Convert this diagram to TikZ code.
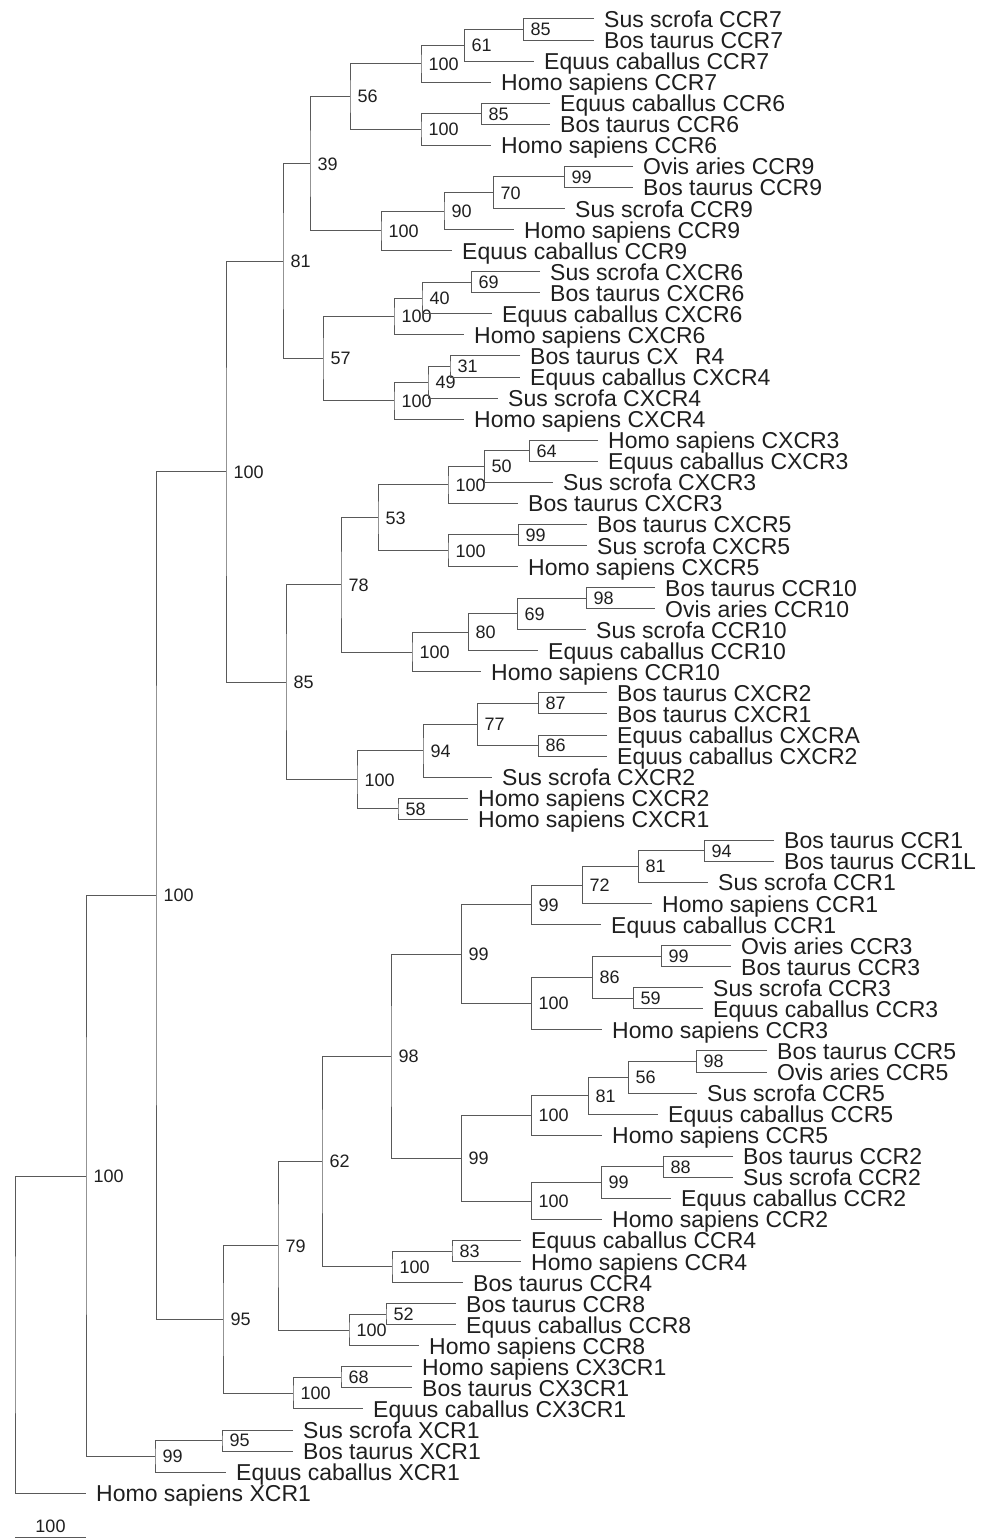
\documentclass[tikz,border=0pt]{standalone}
\usepackage{fontspec}
\setmainfont{Liberation Sans}

\begin{document}
\begin{tikzpicture}[
  x=1pt, y=-21.06pt,
  every node/.style = {inner sep=0pt, text=black!88},
  leaf/.style   = {anchor=base west, xshift=10pt, yshift=-8.5pt,
                   font=\fontsize{23}{27}\selectfont},
  boot/.style   = {anchor=base west, xshift=7.5pt, yshift=-6.3pt,
                   font=\fontsize{18}{21}\selectfont},
  branch/.style = {draw=black!65, line width=1pt}
]
\useasboundingbox (0,-0.902) rectangle (984,72.127);

%% ── TIPS (x = end of branch, y = row) ───────────────────────────
\coordinate (ssCCR7)   at (594, 0);  \node[leaf] (ssCCR7-t)   at (ssCCR7)   {Sus scrofa CCR7};
\coordinate (btCCR7)   at (594, 1);  \node[leaf] (btCCR7-t)   at (btCCR7)   {Bos taurus CCR7};
\coordinate (ecCCR7)   at (534, 2);  \node[leaf] (ecCCR7-t)   at (ecCCR7)   {Equus caballus CCR7};
\coordinate (hsCCR7)   at (491, 3);  \node[leaf] (hsCCR7-t)   at (hsCCR7)   {Homo sapiens CCR7};
\coordinate (ecCCR6)   at (550, 4);  \node[leaf] (ecCCR6-t)   at (ecCCR6)   {Equus caballus CCR6};
\coordinate (btCCR6)   at (550, 5);  \node[leaf] (btCCR6-t)   at (btCCR6)   {Bos taurus CCR6};
\coordinate (hsCCR6)   at (491, 6);  \node[leaf] (hsCCR6-t)   at (hsCCR6)   {Homo sapiens CCR6};
\coordinate (oaCCR9)   at (633, 7);  \node[leaf] (oaCCR9-t)   at (oaCCR9)   {Ovis aries CCR9};
\coordinate (btCCR9)   at (633, 8);  \node[leaf] (btCCR9-t)   at (btCCR9)   {Bos taurus CCR9};
\coordinate (ssCCR9)   at (565, 9);  \node[leaf] (ssCCR9-t)   at (ssCCR9)   {Sus scrofa CCR9};
\coordinate (hsCCR9)   at (514,10);  \node[leaf] (hsCCR9-t)   at (hsCCR9)   {Homo sapiens CCR9};
\coordinate (ecCCR9)   at (452,11);  \node[leaf] (ecCCR9-t)   at (ecCCR9)   {Equus caballus CCR9};
\coordinate (ssCXCR6)  at (540,12);  \node[leaf] (ssCXCR6-t)  at (ssCXCR6)  {Sus scrofa CXCR6};
\coordinate (btCXCR6)  at (540,13);  \node[leaf] (btCXCR6-t)  at (btCXCR6)  {Bos taurus CXCR6};
\coordinate (ecCXCR6)  at (492,14);  \node[leaf] (ecCXCR6-t)  at (ecCXCR6)  {Equus caballus CXCR6};
\coordinate (hsCXCR6)  at (464,15);  \node[leaf] (hsCXCR6-t)  at (hsCXCR6)  {Homo sapiens CXCR6};
\coordinate (btCXCR4)  at (520,16);  \node[leaf] (btCXCR4-t)  at (btCXCR4)  {Bos taurus CX\hphantom{C}R4};
\coordinate (ecCXCR4)  at (520,17);  \node[leaf] (ecCXCR4-t)  at (ecCXCR4)  {Equus caballus CXCR4};
\coordinate (ssCXCR4)  at (498,18);  \node[leaf] (ssCXCR4-t)  at (ssCXCR4)  {Sus scrofa CXCR4};
\coordinate (hsCXCR4)  at (464,19);  \node[leaf] (hsCXCR4-t)  at (hsCXCR4)  {Homo sapiens CXCR4};
\coordinate (hsCXCR3)  at (598,20);  \node[leaf] (hsCXCR3-t)  at (hsCXCR3)  {Homo sapiens CXCR3};
\coordinate (ecCXCR3)  at (598,21);  \node[leaf] (ecCXCR3-t)  at (ecCXCR3)  {Equus caballus CXCR3};
\coordinate (ssCXCR3)  at (553,22);  \node[leaf] (ssCXCR3-t)  at (ssCXCR3)  {Sus scrofa CXCR3};
\coordinate (btCXCR3)  at (518,23);  \node[leaf] (btCXCR3-t)  at (btCXCR3)  {Bos taurus CXCR3};
\coordinate (btCXCR5)  at (587,24);  \node[leaf] (btCXCR5-t)  at (btCXCR5)  {Bos taurus CXCR5};
\coordinate (ssCXCR5)  at (587,25);  \node[leaf] (ssCXCR5-t)  at (ssCXCR5)  {Sus scrofa CXCR5};
\coordinate (hsCXCR5)  at (518,26);  \node[leaf] (hsCXCR5-t)  at (hsCXCR5)  {Homo sapiens CXCR5};
\coordinate (btCCR10)  at (655,27);  \node[leaf] (btCCR10-t)  at (btCCR10)  {Bos taurus CCR10};
\coordinate (oaCCR10)  at (655,28);  \node[leaf] (oaCCR10-t)  at (oaCCR10)  {Ovis aries CCR10};
\coordinate (ssCCR10)  at (586,29);  \node[leaf] (ssCCR10-t)  at (ssCCR10)  {Sus scrofa CCR10};
\coordinate (ecCCR10)  at (538,30);  \node[leaf] (ecCCR10-t)  at (ecCCR10)  {Equus caballus CCR10};
\coordinate (hsCCR10)  at (481,31);  \node[leaf] (hsCCR10-t)  at (hsCCR10)  {Homo sapiens CCR10};
\coordinate (btCXCR2)  at (607,32);  \node[leaf] (btCXCR2-t)  at (btCXCR2)  {Bos taurus CXCR2};
\coordinate (btCXCR1)  at (607,33);  \node[leaf] (btCXCR1-t)  at (btCXCR1)  {Bos taurus CXCR1};
\coordinate (ecCXCRA)  at (607,34);  \node[leaf] (ecCXCRA-t)  at (ecCXCRA)  {Equus caballus CXCRA};
\coordinate (ecCXCR2)  at (607,35);  \node[leaf] (ecCXCR2-t)  at (ecCXCR2)  {Equus caballus CXCR2};
\coordinate (ssCXCR2)  at (492,36);  \node[leaf] (ssCXCR2-t)  at (ssCXCR2)  {Sus scrofa CXCR2};
\coordinate (hsCXCR2)  at (468,37);  \node[leaf] (hsCXCR2-t)  at (hsCXCR2)  {Homo sapiens CXCR2};
\coordinate (hsCXCR1)  at (468,38);  \node[leaf] (hsCXCR1-t)  at (hsCXCR1)  {Homo sapiens CXCR1};
\coordinate (btCCR1)   at (774,39);  \node[leaf] (btCCR1-t)   at (btCCR1)   {Bos taurus CCR1};
\coordinate (btCCR1L)  at (774,40);  \node[leaf] (btCCR1L-t)  at (btCCR1L)  {Bos taurus CCR1L};
\coordinate (ssCCR1)   at (708,41);  \node[leaf] (ssCCR1-t)   at (ssCCR1)   {Sus scrofa CCR1};
\coordinate (hsCCR1)   at (652,42);  \node[leaf] (hsCCR1-t)   at (hsCCR1)   {Homo sapiens CCR1};
\coordinate (ecCCR1)   at (601,43);  \node[leaf] (ecCCR1-t)   at (ecCCR1)   {Equus caballus CCR1};
\coordinate (oaCCR3)   at (731,44);  \node[leaf] (oaCCR3-t)   at (oaCCR3)   {Ovis aries CCR3};
\coordinate (btCCR3)   at (731,45);  \node[leaf] (btCCR3-t)   at (btCCR3)   {Bos taurus CCR3};
\coordinate (ssCCR3)   at (703,46);  \node[leaf] (ssCCR3-t)   at (ssCCR3)   {Sus scrofa CCR3};
\coordinate (ecCCR3)   at (703,47);  \node[leaf] (ecCCR3-t)   at (ecCCR3)   {Equus caballus CCR3};
\coordinate (hsCCR3)   at (602,48);  \node[leaf] (hsCCR3-t)   at (hsCCR3)   {Homo sapiens CCR3};
\coordinate (btCCR5)   at (767,49);  \node[leaf] (btCCR5-t)   at (btCCR5)   {Bos taurus CCR5};
\coordinate (oaCCR5)   at (767,50);  \node[leaf] (oaCCR5-t)   at (oaCCR5)   {Ovis aries CCR5};
\coordinate (ssCCR5)   at (697,51);  \node[leaf] (ssCCR5-t)   at (ssCCR5)   {Sus scrofa CCR5};
\coordinate (ecCCR5)   at (658,52);  \node[leaf] (ecCCR5-t)   at (ecCCR5)   {Equus caballus CCR5};
\coordinate (hsCCR5)   at (602,53);  \node[leaf] (hsCCR5-t)   at (hsCCR5)   {Homo sapiens CCR5};
\coordinate (btCCR2)   at (733,54);  \node[leaf] (btCCR2-t)   at (btCCR2)   {Bos taurus CCR2};
\coordinate (ssCCR2)   at (733,55);  \node[leaf] (ssCCR2-t)   at (ssCCR2)   {Sus scrofa CCR2};
\coordinate (ecCCR2)   at (671,56);  \node[leaf] (ecCCR2-t)   at (ecCCR2)   {Equus caballus CCR2};
\coordinate (hsCCR2)   at (602,57);  \node[leaf] (hsCCR2-t)   at (hsCCR2)   {Homo sapiens CCR2};
\coordinate (ecCCR4)   at (521,58);  \node[leaf] (ecCCR4-t)   at (ecCCR4)   {Equus caballus CCR4};
\coordinate (hsCCR4)   at (521,59);  \node[leaf] (hsCCR4-t)   at (hsCCR4)   {Homo sapiens CCR4};
\coordinate (btCCR4)   at (463,60);  \node[leaf] (btCCR4-t)   at (btCCR4)   {Bos taurus CCR4};
\coordinate (btCCR8)   at (456,61);  \node[leaf] (btCCR8-t)   at (btCCR8)   {Bos taurus CCR8};
\coordinate (ecCCR8)   at (456,62);  \node[leaf] (ecCCR8-t)   at (ecCCR8)   {Equus caballus CCR8};
\coordinate (hsCCR8)   at (419,63);  \node[leaf] (hsCCR8-t)   at (hsCCR8)   {Homo sapiens CCR8};
\coordinate (hsCX3CR1) at (412,64);  \node[leaf] (hsCX3CR1-t) at (hsCX3CR1) {Homo sapiens CX3CR1};
\coordinate (btCX3CR1) at (412,65);  \node[leaf] (btCX3CR1-t) at (btCX3CR1) {Bos taurus CX3CR1};
\coordinate (ecCX3CR1) at (363,66);  \node[leaf] (ecCX3CR1-t) at (ecCX3CR1) {Equus caballus CX3CR1};
\coordinate (ssXCR1)   at (293,67);  \node[leaf] (ssXCR1-t)   at (ssXCR1)   {Sus scrofa XCR1};
\coordinate (btXCR1)   at (293,68);  \node[leaf] (btXCR1-t)   at (btXCR1)   {Bos taurus XCR1};
\coordinate (ecXCR1)   at (226,69);  \node[leaf] (ecXCR1-t)   at (ecXCR1)   {Equus caballus XCR1};
\coordinate (hsXCR1)   at ( 86,70);  \node[leaf] (hsXCR1-t)   at (hsXCR1)   {Homo sapiens XCR1};

%% ── INNER NODES, UPPER CLADE (bootstrap beside each) ────────────
\coordinate (ccr7SB)    at (523, 0.5);     \node[boot] (ccr7SB-b)    at (ccr7SB)    {85};
\coordinate (ccr7SBE)   at (464, 1.25);    \node[boot] (ccr7SBE-b)   at (ccr7SBE)   {61};
\coordinate (ccr7)      at (421, 2.125);   \node[boot] (ccr7-b)      at (ccr7)      {100};
\coordinate (ccr6EB)    at (481, 4.5);     \node[boot] (ccr6EB-b)    at (ccr6EB)    {85};
\coordinate (ccr6)      at (421, 5.25);    \node[boot] (ccr6-b)      at (ccr6)      {100};
\coordinate (ccr67)     at (350, 3.6875);  \node[boot] (ccr67-b)     at (ccr67)     {56};
\coordinate (ccr9OB)    at (564, 7.5);     \node[boot] (ccr9OB-b)    at (ccr9OB)    {99};
\coordinate (ccr9OBS)   at (493, 8.25);    \node[boot] (ccr9OBS-b)   at (ccr9OBS)   {70};
\coordinate (ccr9OBSH)  at (444, 9.125);   \node[boot] (ccr9OBSH-b)  at (ccr9OBSH)  {90};
\coordinate (ccr9)      at (381,10.0625);  \node[boot] (ccr9-b)      at (ccr9)      {100};
\coordinate (ccr679)    at (310, 6.875);   \node[boot] (ccr679-b)    at (ccr679)    {39};
\coordinate (cxcr6SB)   at (471,12.5);     \node[boot] (cxcr6SB-b)   at (cxcr6SB)   {69};
\coordinate (cxcr6SBE)  at (422,13.25);    \node[boot] (cxcr6SBE-b)  at (cxcr6SBE)  {40};
\coordinate (cxcr6)     at (394,14.125);   \node[boot] (cxcr6-b)     at (cxcr6)     {100};
\coordinate (cxcr4BE)   at (450,16.5);     \node[boot] (cxcr4BE-b)   at (cxcr4BE)   {31};
\coordinate (cxcr4BES)  at (428,17.25);    \node[boot] (cxcr4BES-b)  at (cxcr4BES)  {49};
\coordinate (cxcr4)     at (394,18.125);   \node[boot] (cxcr4-b)     at (cxcr4)     {100};
\coordinate (cxcr46)    at (323,16.125);   \node[boot] (cxcr46-b)    at (cxcr46)    {57};
\coordinate (grpA)      at (283,11.5);     \node[boot] (grpA-b)      at (grpA)      {81};
\coordinate (cxcr3HE)   at (529,20.5);     \node[boot] (cxcr3HE-b)   at (cxcr3HE)   {64};
\coordinate (cxcr3HES)  at (484,21.25);    \node[boot] (cxcr3HES-b)  at (cxcr3HES)  {50};
\coordinate (cxcr3)     at (448,22.125);   \node[boot] (cxcr3-b)     at (cxcr3)     {100};
\coordinate (cxcr5BS)   at (518,24.5);     \node[boot] (cxcr5BS-b)   at (cxcr5BS)   {99};
\coordinate (cxcr5)     at (448,25.25);    \node[boot] (cxcr5-b)     at (cxcr5)     {100};
\coordinate (cxcr35)    at (378,23.6875);  \node[boot] (cxcr35-b)    at (cxcr35)    {53};
\coordinate (ccr10BO)   at (586,27.5);     \node[boot] (ccr10BO-b)   at (ccr10BO)   {98};
\coordinate (ccr10BOS)  at (517,28.25);    \node[boot] (ccr10BOS-b)  at (ccr10BOS)  {69};
\coordinate (ccr10BOSE) at (468,29.125);   \node[boot] (ccr10BOSE-b) at (ccr10BOSE) {80};
\coordinate (ccr10)     at (412,30.0625);  \node[boot] (ccr10-b)     at (ccr10)     {100};
\coordinate (grpB)      at (341,26.875);   \node[boot] (grpB-b)      at (grpB)      {78};
\coordinate (cxcr1B)    at (538,32.5);     \node[boot] (cxcr1B-b)    at (cxcr1B)    {87};
\coordinate (cxcr2E)    at (538,34.5);     \node[boot] (cxcr2E-b)    at (cxcr2E)    {86};
\coordinate (cxcr12BE)  at (477,33.5);     \node[boot] (cxcr12BE-b)  at (cxcr12BE)  {77};
\coordinate (cxcr12BES) at (423,34.75);    \node[boot] (cxcr12BES-b) at (cxcr12BES) {94};
\coordinate (cxcr12H)   at (398,37.5);     \node[boot] (cxcr12H-b)   at (cxcr12H)   {58};
\coordinate (cxcr12)    at (357,36.125);   \node[boot] (cxcr12-b)    at (cxcr12)    {100};
\coordinate (grpC)      at (286,31.5);     \node[boot] (grpC-b)      at (grpC)      {85};
\coordinate (grpAC)     at (226,21.5);     \node[boot] (grpAC-b)     at (grpAC)     {100};

%% ── INNER NODES, LOWER CLADE ────────────────────────────────────
\coordinate (ccr1B)     at (704,39.5);     \node[boot] (ccr1B-b)     at (ccr1B)     {94};
\coordinate (ccr1BS)    at (638,40.25);    \node[boot] (ccr1BS-b)    at (ccr1BS)    {81};
\coordinate (ccr1BSH)   at (582,41.125);   \node[boot] (ccr1BSH-b)   at (ccr1BSH)   {72};
\coordinate (ccr1)      at (531,42.0625);  \node[boot] (ccr1-b)      at (ccr1)      {99};
\coordinate (ccr3OB)    at (661,44.5);     \node[boot] (ccr3OB-b)    at (ccr3OB)    {99};
\coordinate (ccr3SE)    at (633,46.5);     \node[boot] (ccr3SE-b)    at (ccr3SE)    {59};
\coordinate (ccr3OBSE)  at (592,45.5);     \node[boot] (ccr3OBSE-b)  at (ccr3OBSE)  {86};
\coordinate (ccr3)      at (531,46.75);    \node[boot] (ccr3-b)      at (ccr3)      {100};
\coordinate (ccr13)     at (461,44.40625); \node[boot] (ccr13-b)     at (ccr13)     {99};
\coordinate (ccr5BO)    at (696,49.5);     \node[boot] (ccr5BO-b)    at (ccr5BO)    {98};
\coordinate (ccr5BOS)   at (628,50.25);    \node[boot] (ccr5BOS-b)   at (ccr5BOS)   {56};
\coordinate (ccr5BOSE)  at (588,51.125);   \node[boot] (ccr5BOSE-b)  at (ccr5BOSE)  {81};
\coordinate (ccr5)      at (531,52.0625);  \node[boot] (ccr5-b)      at (ccr5)      {100};
\coordinate (ccr2BS)    at (663,54.5);     \node[boot] (ccr2BS-b)    at (ccr2BS)    {88};
\coordinate (ccr2BSE)   at (601,55.25);    \node[boot] (ccr2BSE-b)   at (ccr2BSE)   {99};
\coordinate (ccr2)      at (531,56.125);   \node[boot] (ccr2-b)      at (ccr2)      {100};
\coordinate (ccr25)     at (461,54.09375); \node[boot] (ccr25-b)     at (ccr25)     {99};
\coordinate (ccr1235)   at (391,49.25);    \node[boot] (ccr1235-b)   at (ccr1235)   {98};
\coordinate (ccr4EH)    at (452,58.5);     \node[boot] (ccr4EH-b)    at (ccr4EH)    {83};
\coordinate (ccr4)      at (392,59.25);    \node[boot] (ccr4-b)      at (ccr4)      {100};
\coordinate (ccr12345)  at (322,54.25);    \node[boot] (ccr12345-b)  at (ccr12345)  {62};
\coordinate (ccr8BE)    at (386,61.5);     \node[boot] (ccr8BE-b)    at (ccr8BE)    {52};
\coordinate (ccr8)      at (349,62.25);    \node[boot] (ccr8-b)      at (ccr8)      {100};
\coordinate (ccrX)      at (278,58.25);    \node[boot] (ccrX-b)      at (ccrX)      {79};
\coordinate (cx3cr1HB)  at (341,64.5);     \node[boot] (cx3cr1HB-b)  at (cx3cr1HB)  {68};
\coordinate (cx3cr1)    at (293,65.25);    \node[boot] (cx3cr1-b)    at (cx3cr1)    {100};
\coordinate (grpD)      at (223,61.75);    \node[boot] (grpD-b)      at (grpD)      {95};
\coordinate (grpE)      at (156,41.625);   \node[boot] (grpE-b)      at (grpE)      {100};
\coordinate (xcr1SB)    at (222,67.5);     \node[boot] (xcr1SB-b)    at (xcr1SB)    {95};
\coordinate (xcr1)      at (155,68.25);    \node[boot] (xcr1-b)      at (xcr1)      {99};
\coordinate (ingroup)   at ( 86,54.9375);  \node[boot] (ingroup-b)   at (ingroup)   {100};
\coordinate (root)      at ( 15,62.46875);

%% ── BRANCHES ────────────────────────────────────────────────────
\draw[branch] (ssCCR7)    -| (ccr7SB)    |- (btCCR7);
\draw[branch] (ccr7SB)    -| (ccr7SBE)   |- (ecCCR7);
\draw[branch] (ccr7SBE)   -| (ccr7)      |- (hsCCR7);
\draw[branch] (ecCCR6)    -| (ccr6EB)    |- (btCCR6);
\draw[branch] (ccr6EB)    -| (ccr6)      |- (hsCCR6);
\draw[branch] (ccr7)      -| (ccr67)     |- (ccr6);
\draw[branch] (oaCCR9)    -| (ccr9OB)    |- (btCCR9);
\draw[branch] (ccr9OB)    -| (ccr9OBS)   |- (ssCCR9);
\draw[branch] (ccr9OBS)   -| (ccr9OBSH)  |- (hsCCR9);
\draw[branch] (ccr9OBSH)  -| (ccr9)      |- (ecCCR9);
\draw[branch] (ccr67)     -| (ccr679)    |- (ccr9);
\draw[branch] (ssCXCR6)   -| (cxcr6SB)   |- (btCXCR6);
\draw[branch] (cxcr6SB)   -| (cxcr6SBE)  |- (ecCXCR6);
\draw[branch] (cxcr6SBE)  -| (cxcr6)     |- (hsCXCR6);
\draw[branch] (btCXCR4)   -| (cxcr4BE)   |- (ecCXCR4);
\draw[branch] (cxcr4BE)   -| (cxcr4BES)  |- (ssCXCR4);
\draw[branch] (cxcr4BES)  -| (cxcr4)     |- (hsCXCR4);
\draw[branch] (cxcr6)     -| (cxcr46)    |- (cxcr4);
\draw[branch] (ccr679)    -| (grpA)      |- (cxcr46);
\draw[branch] (hsCXCR3)   -| (cxcr3HE)   |- (ecCXCR3);
\draw[branch] (cxcr3HE)   -| (cxcr3HES)  |- (ssCXCR3);
\draw[branch] (cxcr3HES)  -| (cxcr3)     |- (btCXCR3);
\draw[branch] (btCXCR5)   -| (cxcr5BS)   |- (ssCXCR5);
\draw[branch] (cxcr5BS)   -| (cxcr5)     |- (hsCXCR5);
\draw[branch] (cxcr3)     -| (cxcr35)    |- (cxcr5);
\draw[branch] (btCCR10)   -| (ccr10BO)   |- (oaCCR10);
\draw[branch] (ccr10BO)   -| (ccr10BOS)  |- (ssCCR10);
\draw[branch] (ccr10BOS)  -| (ccr10BOSE) |- (ecCCR10);
\draw[branch] (ccr10BOSE) -| (ccr10)     |- (hsCCR10);
\draw[branch] (cxcr35)    -| (grpB)      |- (ccr10);
\draw[branch] (btCXCR2)   -| (cxcr1B)    |- (btCXCR1);
\draw[branch] (ecCXCRA)   -| (cxcr2E)    |- (ecCXCR2);
\draw[branch] (cxcr1B)    -| (cxcr12BE)  |- (cxcr2E);
\draw[branch] (cxcr12BE)  -| (cxcr12BES) |- (ssCXCR2);
\draw[branch] (hsCXCR2)   -| (cxcr12H)   |- (hsCXCR1);
\draw[branch] (cxcr12BES) -| (cxcr12)    |- (cxcr12H);
\draw[branch] (grpB)      -| (grpC)      |- (cxcr12);
\draw[branch] (grpA)      -| (grpAC)     |- (grpC);

\draw[branch] (btCCR1)    -| (ccr1B)     |- (btCCR1L);
\draw[branch] (ccr1B)     -| (ccr1BS)    |- (ssCCR1);
\draw[branch] (ccr1BS)    -| (ccr1BSH)   |- (hsCCR1);
\draw[branch] (ccr1BSH)   -| (ccr1)      |- (ecCCR1);
\draw[branch] (oaCCR3)    -| (ccr3OB)    |- (btCCR3);
\draw[branch] (ssCCR3)    -| (ccr3SE)    |- (ecCCR3);
\draw[branch] (ccr3OB)    -| (ccr3OBSE)  |- (ccr3SE);
\draw[branch] (ccr3OBSE)  -| (ccr3)      |- (hsCCR3);
\draw[branch] (ccr1)      -| (ccr13)     |- (ccr3);
\draw[branch] (btCCR5)    -| (ccr5BO)    |- (oaCCR5);
\draw[branch] (ccr5BO)    -| (ccr5BOS)   |- (ssCCR5);
\draw[branch] (ccr5BOS)   -| (ccr5BOSE)  |- (ecCCR5);
\draw[branch] (ccr5BOSE)  -| (ccr5)      |- (hsCCR5);
\draw[branch] (btCCR2)    -| (ccr2BS)    |- (ssCCR2);
\draw[branch] (ccr2BS)    -| (ccr2BSE)   |- (ecCCR2);
\draw[branch] (ccr2BSE)   -| (ccr2)      |- (hsCCR2);
\draw[branch] (ccr5)      -| (ccr25)     |- (ccr2);
\draw[branch] (ccr13)     -| (ccr1235)   |- (ccr25);
\draw[branch] (ecCCR4)    -| (ccr4EH)    |- (hsCCR4);
\draw[branch] (ccr4EH)    -| (ccr4)      |- (btCCR4);
\draw[branch] (ccr1235)   -| (ccr12345)  |- (ccr4);
\draw[branch] (btCCR8)    -| (ccr8BE)    |- (ecCCR8);
\draw[branch] (ccr8BE)    -| (ccr8)      |- (hsCCR8);
\draw[branch] (ccr12345)  -| (ccrX)      |- (ccr8);
\draw[branch] (hsCX3CR1)  -| (cx3cr1HB)  |- (btCX3CR1);
\draw[branch] (cx3cr1HB)  -| (cx3cr1)    |- (ecCX3CR1);
\draw[branch] (ccrX)      -| (grpD)      |- (cx3cr1);
\draw[branch] (grpAC)     -| (grpE)      |- (grpD);
\draw[branch] (ssXCR1)    -| (xcr1SB)    |- (btXCR1);
\draw[branch] (xcr1SB)    -| (xcr1)      |- (ecXCR1);
\draw[branch] (grpE)      -| (ingroup)   |- (xcr1);
\draw[branch] (ingroup)   -| (root)      |- (hsXCR1);

%% ── SCALE BAR ───────────────────────────────────────────────────
\coordinate (barL) at (15,72.08);
\coordinate (barR) at (86,72.08);
\draw[branch] (barL) -- node[anchor=base, yshift=4.3pt,
  font=\fontsize{18}{21}\selectfont] (bar-t) {100} (barR);

\end{tikzpicture}
\end{document}
